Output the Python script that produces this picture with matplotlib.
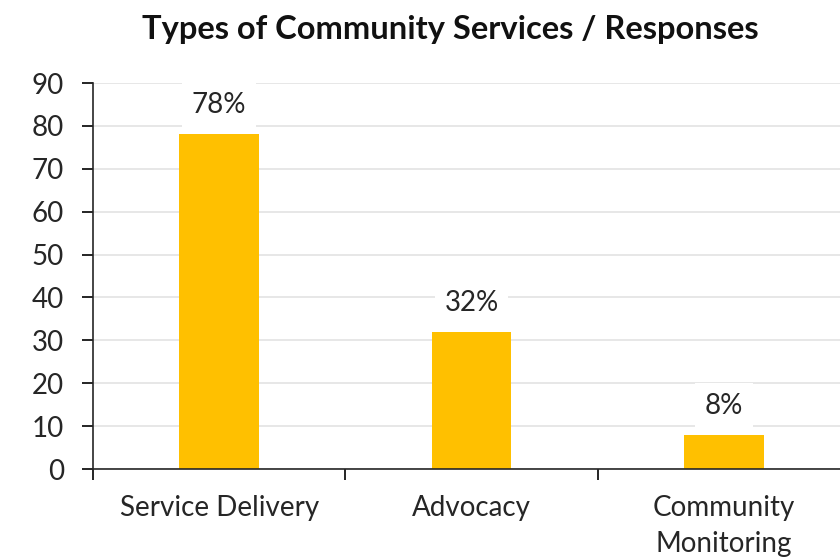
import numpy as np
import matplotlib

matplotlib.use("Agg")
import matplotlib.pyplot as plt  # noqa: E402

categories = ["Service Delivery", "Advocacy", "Community\nMonitoring"]
values = [78, 32, 8]
labels = ["78%", "32%", "8%"]

plt.rcParams["font.family"] = ["Lato", "DejaVu Sans"]

fig = plt.figure(figsize=(8.4, 5.6), dpi=100)
ax = fig.add_axes([93 / 840, 1 - 469 / 560, 757 / 840, (469 - 83) / 560])

x = np.arange(len(categories))
ax.bar(x, values, width=0.315, color="#FFC000", zorder=2)

for xi, v, lab in zip(x, values, labels):
    ax.annotate(lab, (xi, v), xytext=(0, 21), textcoords="offset points",
                ha="center", va="center", fontsize=20, color="#262626",
                bbox=dict(boxstyle="square,pad=0.35", fc="white", ec="none"),
                zorder=3)

ax.set_xlim(-0.5, len(categories) - 0.5)
ax.set_ylim(0, 90)
ax.set_yticks(range(0, 91, 10))
ax.set_xticks(x)
ax.set_xticklabels(categories, fontsize=20, color="#262626", linespacing=1.45)
ax.set_xticks(np.arange(-0.5, len(categories), 1), minor=True)
ax.tick_params(axis="x", which="major", length=0, pad=19)
ax.tick_params(axis="x", which="minor", length=8, width=1.2, direction="out")
ax.tick_params(axis="y", length=8, width=1.2, labelsize=20, labelcolor="#262626",
               pad=13)
for lab in ax.get_xticklabels():
    lab.set_verticalalignment("top")

ax.grid(axis="y", color="#E3E3E3", linewidth=1.2, zorder=0)
for s in ["top", "right"]:
    ax.spines[s].set_visible(False)
for s in ["left", "bottom"]:
    ax.spines[s].set_linewidth(1.2)
    ax.spines[s].set_color("#262626")

fig.text(450 / 840, 1 - 30 / 560, "Types of Community Services / Responses",
         ha="center", va="center", fontsize=23.5, fontweight="bold", color="#111111")

fig.savefig("out.png", dpi=100)
